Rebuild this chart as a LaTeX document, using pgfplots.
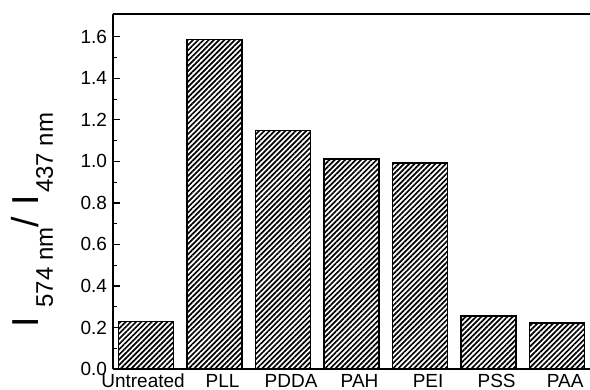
\documentclass[border=0pt]{standalone}
\usepackage{fontspec}
\setmainfont{Liberation Sans}
\usepackage{pgfplots}
\pgfplotsset{compat=1.18}
\usetikzlibrary{patterns.meta}

\begin{document}
\begin{tikzpicture}
\begin{axis}[
  at={(0pt,0pt)}, anchor=south west,
  scale only axis,
  width=477pt, height=355pt,
  xmin=-0.482, xmax=6.48,
  ymin=0, ymax=1.71,
  enlargelimits=false,
  clip=false,
  axis lines*=left,
  axis line style={-, line width=1.4pt},
  xtick={0,1,2,3,4,5,6},
  xticklabels={\hspace*{-22pt}Untreated, PLL, PDDA, PAH, PEI, PSS, PAA},
  ytick={0,0.2,0.4,0.6,0.8,1.0,1.2,1.4,1.6},
  minor y tick num=1,
  x tick style={draw=none},
  y tick style={line width=1.2pt, black},
  tick align=inside,
  major tick length=7.5pt,
  minor tick length=4.3pt,
  /pgf/number format/assume math mode=true,
  tick label style={font=\fontsize{19}{19}\selectfont},
  yticklabel style={xshift=-2.5pt, /pgf/number format/.cd, fixed, fixed zerofill, precision=1},
  xticklabel style={anchor=base, yshift=-18.3pt, xshift=8pt},
]
\addplot[ybar, bar width=55pt, draw=black, line width=1.6pt,
  pattern={Lines[angle=45,distance=3.7pt,line width=1.7pt]}]
  coordinates {(0,0.229) (1,1.587) (2,1.148) (3,1.012) (4,0.991) (5,0.256) (6,0.221)};
\draw[line width=1.4pt] (rel axis cs:0,1) -- (rel axis cs:1,1);
\end{axis}
\node[rotate=90, anchor=base, inner sep=0pt] at (-74pt,149pt)
  {\fontsize{37.5}{40}\selectfont I\hspace{9.4pt}\raisebox{-14pt}{\fontsize{24}{26}\selectfont 574 nm}/\hspace{11pt}I\hspace{2.6pt}\raisebox{-14pt}{\fontsize{24}{26}\selectfont 437 nm}};
\pgfresetboundingbox
\path[use as bounding box] (-113pt,-21pt) rectangle (477pt,369pt);
\end{tikzpicture}
\end{document}
